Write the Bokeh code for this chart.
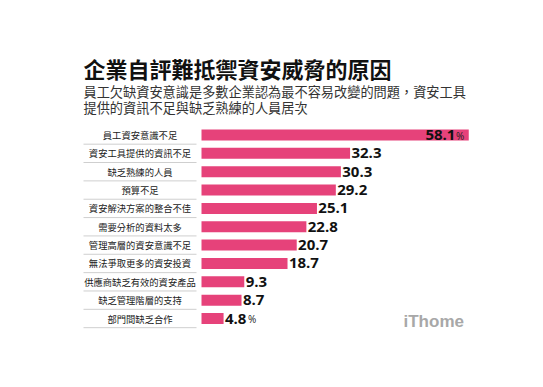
from bokeh.plotting import figure
from bokeh.models import Range1d, ColumnDataSource
from bokeh.core.properties import value
from bokeh.embed import file_html
from bokeh.resources import INLINE

# ---------------- data ----------------
title_text = "企業自評難抵禦資安威脅的原因"
subtitle_lines = [
    "員工欠缺資安意識是多數企業認為最不容易改變的問題，資安工具",
    "提供的資訊不足與缺乏熟練的人員居次",
]
categories = [
    "員工資安意識不足",
    "資安工具提供的資訊不足",
    "缺乏熟練的人員",
    "預算不足",
    "資安解決方案的整合不佳",
    "需要分析的資料太多",
    "管理高層的資安意識不足",
    "無法爭取更多的資安投資",
    "供應商缺乏有效的資安產品",
    "缺乏管理階層的支持",
    "部門間缺乏合作",
]
values = [58.1, 32.3, 30.3, 29.2, 25.1, 22.8, 20.7, 18.7, 9.3, 8.7, 4.8]
value_labels = ["58.1", "32.3", "30.3", "29.2", "25.1", "22.8", "20.7", "18.7", "9.3", "8.7", "4.8"]
unit = "%"
brand = "iThome"

# ---------------- layout helpers ----------------
W, H = 527, 371
ORIGIN = 0          # page px of the figure's top-left corner (as rendered)
PX_PER_UNIT = 4.6
BAR_X0 = 201.0      # page px where value 0 sits
ROW0 = 134.5        # page px of first row centre
ROW_STEP = 18.35

def xv(px):
    return (px - BAR_X0) / PX_PER_UNIT

def yr(py):
    return (py - ROW0) / ROW_STEP

p = figure(width=W, height=H, output_backend="svg", toolbar_location=None,
           x_range=Range1d(xv(ORIGIN), xv(ORIGIN + W)),
           y_range=Range1d(yr(ORIGIN + H), yr(ORIGIN)),
           min_border=0, outline_line_color=None,
           background_fill_color="white", border_fill_color="white")
p.axis.visible = False
p.grid.visible = False

CJK = value("Noto Sans CJK TC")
NUM = value("Open Sans")

rows = list(range(len(categories)))

# bars
src = ColumnDataSource(dict(y=rows, v=values, cat=categories, lab=value_labels))
p.hbar(y="y", left=0, right="v", height=0.6, source=src,
       fill_color="#E6427A", line_color=None)

# separators under each category label
p.segment(x0=[xv(83)] * len(rows), x1=[xv(196)] * len(rows),
          y0=[r + 0.5 for r in rows], y1=[r + 0.5 for r in rows],
          line_color="#CFCFCF", line_width=1)

# category labels
p.text(x=xv(139.5), y="y", text="cat", source=src, text_font=CJK,
       text_font_size="9.3px", text_align="center", text_baseline="middle",
       text_color="#222222")

# value labels: first one inside the bar end, the rest right after the bar
p.text(x=[values[0] - 2.9], y=[0], text=[value_labels[0]], text_font=NUM,
       text_font_style="bold", text_font_size="15px", text_align="right",
       text_baseline="middle", text_color="#111111")
p.text(x=[values[0] - 2.75], y=[0.05], text=[unit], text_font=NUM,
       text_font_size="10px", text_align="left", text_baseline="middle",
       text_color="#222222")

rest = ColumnDataSource(dict(x=[v + 0.3 for v in values[1:]], y=rows[1:],
                             t=value_labels[1:]))
p.text(x="x", y="y", text="t", source=rest, text_font=NUM,
       text_font_style="bold", text_font_size="15px", text_align="left",
       text_baseline="middle", text_color="#111111")
p.text(x=[values[-1] + 0.3 + 5.0], y=[rows[-1] + 0.05], text=[unit],
       text_font=NUM, text_font_size="10px", text_align="left",
       text_baseline="middle", text_color="#222222")

# title & subtitle
p.text(x=[xv(83)], y=[yr(67.5)], text=[title_text], text_font=CJK,
       text_font_style="bold", text_font_size="22px", text_align="left",
       text_baseline="middle", text_color="#111111")
p.text(x=[xv(83)] * 2, y=[yr(91), yr(106.5)], text=subtitle_lines,
       text_font=CJK, text_font_size="13.2px", text_align="left",
       text_baseline="middle", text_color="#333333")

# brand mark
p.text(x=[xv(403)], y=[yr(321)], text=[brand], text_font=value("Liberation Sans"),
       text_font_style="bold", text_font_size="17px", text_align="left",
       text_baseline="middle", text_color="#A8A8A8")

open("out.html", "w").write(file_html(p, INLINE))
